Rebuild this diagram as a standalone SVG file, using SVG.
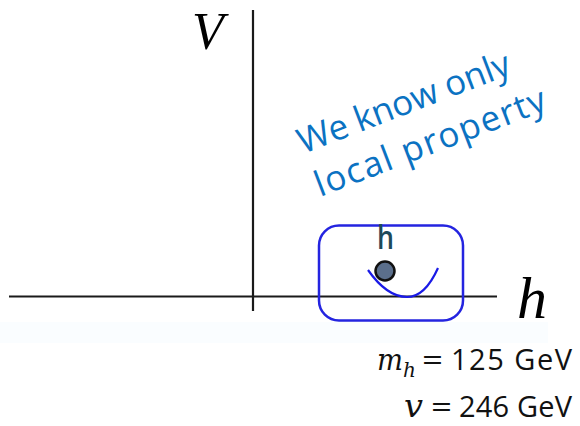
<svg xmlns="http://www.w3.org/2000/svg" width="580" height="426" viewBox="0 0 580 426">
<style>
.axis{stroke:#1a1a1a;stroke-width:2.2;fill:none}
.math{font-family:"Liberation Serif","DejaVu Serif",serif;font-style:italic;fill:#000}
.mathd{font-family:"DejaVu Serif","Liberation Serif",serif;font-style:italic;fill:#111}
.txt{font-family:"Open Sans","Liberation Sans",sans-serif;fill:#111}
.note{font-family:"Open Sans","DejaVu Sans",sans-serif;fill:#0b72c2;font-size:35px}
</style>
<rect x="0" y="0" width="580" height="426" fill="#fff"/>
<rect x="0" y="322" width="548" height="21" fill="#fafdff"/>
<g id="connectors">
<line class="axis" x1="9" y1="296.5" x2="497" y2="296.5"/>
<line class="axis" x1="253" y1="10" x2="253" y2="311"/>
</g>
<g id="label-V"><text class="math" x="192" y="49" font-size="52">V</text></g>
<g id="label-h-axis"><text class="math" x="517" y="318" font-size="60">h</text></g>
<g id="note">
<g transform="translate(303,154) rotate(-21)"><text class="note" x="0" y="0" textLength="225">We know only</text></g>
<g transform="translate(320,197) rotate(-21)"><text class="note" x="0" y="0" textLength="245">local property</text></g>
</g>
<g id="region">
<rect x="319" y="225.5" width="144" height="95" rx="20" ry="20" fill="none" stroke="#2424e0" stroke-width="2.5"/>
<path d="M368,270 Q387,297 407,297 Q425,297 438,268" fill="none" stroke="#1a1ae6" stroke-width="2.2"/>
</g>
<g id="higgs">
<circle cx="385" cy="271" r="9.5" fill="#5b6f8c" stroke="#111" stroke-width="2.5"/>
<text class="txt" x="377" y="249" font-size="33" font-weight="600" textLength="17" lengthAdjust="spacingAndGlyphs" style="fill:#1d4a5a">h</text>
</g>
<g id="values">
<text class="mathd" x="377" y="370" font-size="29" textLength="26" lengthAdjust="spacingAndGlyphs">m</text>
<text class="mathd" x="403" y="377" font-size="20">h</text>
<text class="txt" x="422" y="370" font-size="30" textLength="21" lengthAdjust="spacingAndGlyphs">=</text>
<text class="txt" x="451" y="370" font-size="29" textLength="121">125 GeV</text>
<text class="mathd" x="404" y="417" font-size="31" textLength="19" lengthAdjust="spacingAndGlyphs">v</text>
<text class="txt" x="431" y="417" font-size="30" textLength="21" lengthAdjust="spacingAndGlyphs">=</text>
<text class="txt" x="459" y="417" font-size="29" textLength="113">246 GeV</text>
</g>
</svg>
